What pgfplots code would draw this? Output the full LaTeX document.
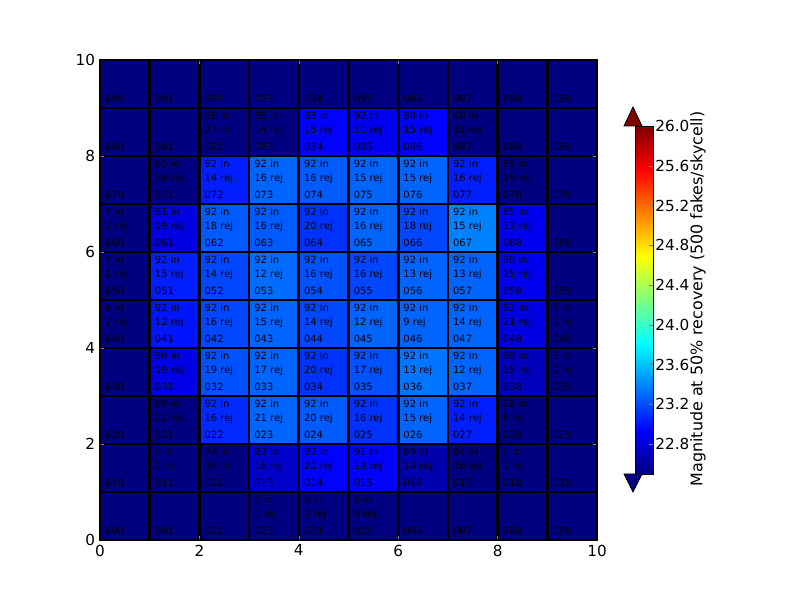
\documentclass[border=0pt]{standalone}
\usepackage{pgfplots}
\pgfplotsset{compat=1.18}
\usepackage{pgfplotstable}
\usepackage{fontspec}
\setmainfont{DejaVu Sans}

\definecolor{jetlow}{RGB}{0,0,128}
\definecolor{jethigh}{RGB}{128,0,0}

% magnitude at 50% recovery per skycell, cell centres
\pgfplotstableread[row sep=\\]{
x y c\\
0.5 0.5 22.5\\ 1.5 0.5 22.5\\ 2.5 0.5 22.5\\ 3.5 0.5 22.5\\ 4.5 0.5 22.5\\ 5.5 0.5 22.5\\ 6.5 0.5 22.5\\ 7.5 0.5 22.5\\ 8.5 0.5 22.5\\ 9.5 0.5 22.5\\
0.5 1.5 22.5\\ 1.5 1.5 22.5\\ 2.5 1.5 22.5\\ 3.5 1.5 22.75\\ 4.5 1.5 22.94\\ 5.5 1.5 22.94\\ 6.5 1.5 22.65\\ 7.5 1.5 22.5\\ 8.5 1.5 22.5\\ 9.5 1.5 22.5\\
0.5 2.5 22.5\\ 1.5 2.5 22.5\\ 2.5 2.5 23.08\\ 3.5 2.5 23.28\\ 4.5 2.5 23.25\\ 5.5 2.5 23.11\\ 6.5 2.5 23.28\\ 7.5 2.5 23.04\\ 8.5 2.5 22.5\\ 9.5 2.5 22.5\\
0.5 3.5 22.5\\ 1.5 3.5 22.85\\ 2.5 3.5 23.22\\ 3.5 3.5 23.28\\ 4.5 3.5 23.11\\ 5.5 3.5 23.22\\ 6.5 3.5 23.34\\ 7.5 3.5 23.28\\ 8.5 3.5 22.71\\ 9.5 3.5 22.5\\
0.5 4.5 22.5\\ 1.5 4.5 23.01\\ 2.5 4.5 23.18\\ 3.5 4.5 23.28\\ 4.5 4.5 23.18\\ 5.5 4.5 23.28\\ 6.5 4.5 23.28\\ 7.5 4.5 23.28\\ 8.5 4.5 22.83\\ 9.5 4.5 22.5\\
0.5 5.5 22.5\\ 1.5 5.5 23.04\\ 2.5 5.5 23.18\\ 3.5 5.5 23.31\\ 4.5 5.5 23.22\\ 5.5 5.5 23.18\\ 6.5 5.5 23.28\\ 7.5 5.5 23.28\\ 8.5 5.5 22.89\\ 9.5 5.5 22.5\\
0.5 6.5 22.5\\ 1.5 6.5 22.83\\ 2.5 6.5 23.25\\ 3.5 6.5 23.25\\ 4.5 6.5 23.11\\ 5.5 6.5 23.28\\ 6.5 6.5 23.18\\ 7.5 6.5 23.38\\ 8.5 6.5 22.89\\ 9.5 6.5 22.5\\
0.5 7.5 22.5\\ 1.5 7.5 22.5\\ 2.5 7.5 23.04\\ 3.5 7.5 23.28\\ 4.5 7.5 23.25\\ 5.5 7.5 23.28\\ 6.5 7.5 23.28\\ 7.5 7.5 23.04\\ 8.5 7.5 22.5\\ 9.5 7.5 22.5\\
0.5 8.5 22.5\\ 1.5 8.5 22.5\\ 2.5 8.5 22.5\\ 3.5 8.5 22.5\\ 4.5 8.5 22.94\\ 5.5 8.5 22.89\\ 6.5 8.5 22.94\\ 7.5 8.5 22.5\\ 8.5 8.5 22.5\\ 9.5 8.5 22.5\\
0.5 9.5 22.5\\ 1.5 9.5 22.5\\ 2.5 9.5 22.5\\ 3.5 9.5 22.5\\ 4.5 9.5 22.5\\ 5.5 9.5 22.5\\ 6.5 9.5 22.5\\ 7.5 9.5 22.5\\ 8.5 9.5 22.5\\ 9.5 9.5 22.5\\
}\magtable

% "N in" / "M rej" notes of a cell (column, row, in, rej)
\newcommand{\cellnote}[4]{%
  \node[lbl] at (axis cs:#1.1,#2.75) {#3 in};
  \node[lbl] at (axis cs:#1.1,#2.47) {#4 rej};}

\begin{document}
\begin{tikzpicture}[lbl/.style={font=\fontsize{7.2}{8}\selectfont, anchor=base west, inner sep=0pt, text=black}]
\path[use as bounding box] (0,0) rectangle (8in,6in);
\begin{axis}[
    at={(1in,0.6in)}, anchor=south west,
    width=4.97in, height=4.8in, scale only axis,
    xmin=0, xmax=10, ymin=0, ymax=10,
    xtick={0,2,...,10}, ytick={0,2,...,10},
    minor xtick={1,2,...,9}, minor ytick={1,2,...,9},
    xminorgrids, yminorgrids,
    minor grid style={black, line width=1.9pt},
    minor tick length=0pt, major tick length=0.04in,
    tick align=inside,
    axis line style={black, line width=1.1pt},
    axis on top,
    ticklabel style={font=\fontsize{11}{13}\selectfont},
    /pgf/number format/assume math mode=true,
    colormap/jet,
    point meta min=22.5, point meta max=26,
    colorbar,
    colorbar style={
        at={(parent axis.south east)}, anchor=south west,
        xshift=0.27in, yshift=0.66in,
        width=0.18in, height=3.48in, scale only axis,
        ytick={22.8,23.2,23.6,24.0,24.4,24.8,25.2,25.6,26.0},
        ytick pos=right,
        yticklabel style={font=\fontsize{11}{13}\selectfont, inner sep=1pt,
            /pgf/number format/.cd, fixed, fixed zerofill, precision=1},
        /pgf/number format/assume math mode=true,
        tick align=inside, major tick length=0.05in,
        axis line style={black, line width=0.6pt},
    },
]
\addplot[matrix plot*, mesh/cols=10, point meta=explicit, draw=none]
    table[x=x, y=y, meta=c] {\magtable};

\pgfplotsforeachungrouped \ry in {0,...,9}{%
  \pgfplotsforeachungrouped \cx in {0,...,9}{%
    \edef\tmp{\noexpand\node[lbl] at (axis cs:\cx.1,\ry.11) {0\ry\cx};}%
    \tmp}}

\cellnote{2}{8}{58}{27} \cellnote{3}{8}{86}{14} \cellnote{4}{8}{88}{15}
\cellnote{5}{8}{92}{11} \cellnote{6}{8}{88}{15} \cellnote{7}{8}{40}{11}
\cellnote{1}{7}{65}{36} \cellnote{2}{7}{92}{14} \cellnote{3}{7}{92}{16}
\cellnote{4}{7}{92}{16} \cellnote{5}{7}{92}{15} \cellnote{6}{7}{92}{15}
\cellnote{7}{7}{92}{16} \cellnote{8}{7}{59}{19}
\cellnote{0}{6}{7}{3} \cellnote{1}{6}{91}{19} \cellnote{2}{6}{92}{18}
\cellnote{3}{6}{92}{16} \cellnote{4}{6}{92}{20} \cellnote{5}{6}{92}{16}
\cellnote{6}{6}{92}{18} \cellnote{7}{6}{92}{15} \cellnote{8}{6}{85}{13}
\cellnote{0}{5}{7}{1} \cellnote{1}{5}{92}{15} \cellnote{2}{5}{92}{14}
\cellnote{3}{5}{92}{12} \cellnote{4}{5}{92}{16} \cellnote{5}{5}{92}{16}
\cellnote{6}{5}{92}{13} \cellnote{7}{5}{92}{13} \cellnote{8}{5}{90}{15}
\cellnote{0}{4}{6}{2} \cellnote{1}{4}{92}{12} \cellnote{2}{4}{92}{16}
\cellnote{3}{4}{92}{15} \cellnote{4}{4}{92}{14} \cellnote{5}{4}{92}{12}
\cellnote{6}{4}{92}{9} \cellnote{7}{4}{92}{14} \cellnote{8}{4}{92}{21}
\cellnote{9}{4}{5}{1}
\cellnote{1}{3}{90}{19} \cellnote{2}{3}{92}{19} \cellnote{3}{3}{92}{17}
\cellnote{4}{3}{92}{20} \cellnote{5}{3}{92}{17} \cellnote{6}{3}{92}{13}
\cellnote{7}{3}{92}{12} \cellnote{8}{3}{90}{15} \cellnote{9}{3}{3}{0}
\cellnote{1}{2}{69}{22} \cellnote{2}{2}{92}{16} \cellnote{3}{2}{92}{21}
\cellnote{4}{2}{92}{20} \cellnote{5}{2}{92}{16} \cellnote{6}{2}{92}{15}
\cellnote{7}{2}{92}{14} \cellnote{8}{2}{28}{8}
\cellnote{1}{1}{3}{1} \cellnote{2}{1}{74}{30} \cellnote{3}{1}{92}{16}
\cellnote{4}{1}{92}{20} \cellnote{5}{1}{91}{13} \cellnote{6}{1}{89}{14}
\cellnote{7}{1}{64}{16} \cellnote{8}{1}{3}{1}
\cellnote{3}{0}{7}{1} \cellnote{4}{0}{6}{2} \cellnote{5}{0}{5}{0}
\end{axis}
% colorbar extension arrows
\draw[line width=0.6pt, fill=jetlow] (6.24in,1.26in) -- (6.33in,1.08in) -- (6.42in,1.26in) -- cycle;
\draw[line width=0.6pt, fill=jethigh] (6.24in,4.74in) -- (6.33in,4.93in) -- (6.42in,4.74in) -- cycle;
% colorbar label
\node[rotate=90, font=\fontsize{11.5}{13}\selectfont] at (6.98in,3.01in)
    {Magnitude at 50\% recovery (500 fakes/skycell)};
\end{tikzpicture}
\end{document}
